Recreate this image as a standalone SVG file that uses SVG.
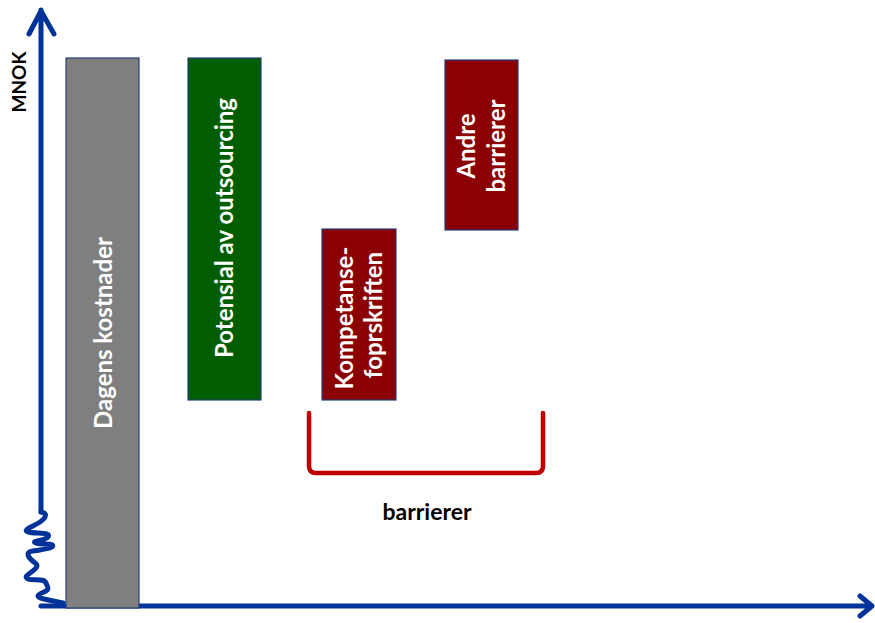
<svg xmlns="http://www.w3.org/2000/svg" width="875" height="623" viewBox="0 0 875 623">
<style>
.bar{stroke:#24407a;stroke-width:1.2}
.axis{fill:none;stroke:#003399;stroke-width:5;stroke-linecap:round;stroke-linejoin:round}
.lbl{font-family:Lato,"Open Sans","Liberation Sans",sans-serif;font-weight:bold;font-size:24px;fill:#ffffff;text-anchor:middle}
.blk{font-family:Lato,"Open Sans","Liberation Sans",sans-serif;font-weight:bold;fill:#000000;text-anchor:middle}
</style>
<rect width="875" height="623" fill="#ffffff"/>
<g id="axes">
<path class="axis" d="M41,512 L41,10 M29,34 L41,11 L54,34"/>
<path class="axis" d="M41,606 L871,606 M860,596 L872,606 L860,616"/>
<path class="axis" stroke-width="5" d="M41,512 C48,513 46,518 40,522 C32,527 22,530 28,532 C36,534 52,532 48,537 C44,541 30,541 36,543 C44,545 56,543 52,547 C46,551 26,549 28,555 C30,562 40,563 36,568 C32,573 22,576 28,579 C34,581 44,578 46,583 C48,588 50,589 44,592 C36,595 36,597 44,599 C52,601 58,602 63,603"/>
<text class="blk" font-size="19" transform="translate(26,82) rotate(-90)">MNOK</text>
</g>
<g id="dagens">
<rect class="bar" x="66" y="58" width="73" height="550" fill="#7f7f7f"/>
<text class="lbl" transform="translate(112,333) rotate(-90)">Dagens kostnader</text>
</g>
<g id="potensial">
<rect class="bar" x="188" y="58" width="73" height="342" fill="#005e00"/>
<text class="lbl" transform="translate(233,228) rotate(-90)">Potensial av outsourcing</text>
</g>
<g id="kompetanse">
<rect class="bar" x="322" y="229" width="74" height="171" fill="#8b0000"/>
<text class="lbl" transform="translate(353,318) rotate(-90)">Kompetanse-</text>
<text class="lbl" transform="translate(382,315) rotate(-90)">foprskriften</text>
</g>
<g id="andre">
<rect class="bar" x="445" y="60" width="73" height="170" fill="#8b0000"/>
<text class="lbl" transform="translate(475,146) rotate(-90)">Andre</text>
<text class="lbl" transform="translate(505,146) rotate(-90)">barrierer</text>
</g>
<g id="connectors">
<path d="M309,413 L309,466 Q309,473 316,473 L536,473 Q543,473 543,466 L543,413" fill="none" stroke="#c00000" stroke-width="4.5" stroke-linecap="round"/>
</g>
<g id="barrierer">
<text class="blk" font-size="23" x="427" y="520">barrierer</text>
</g>
</svg>
